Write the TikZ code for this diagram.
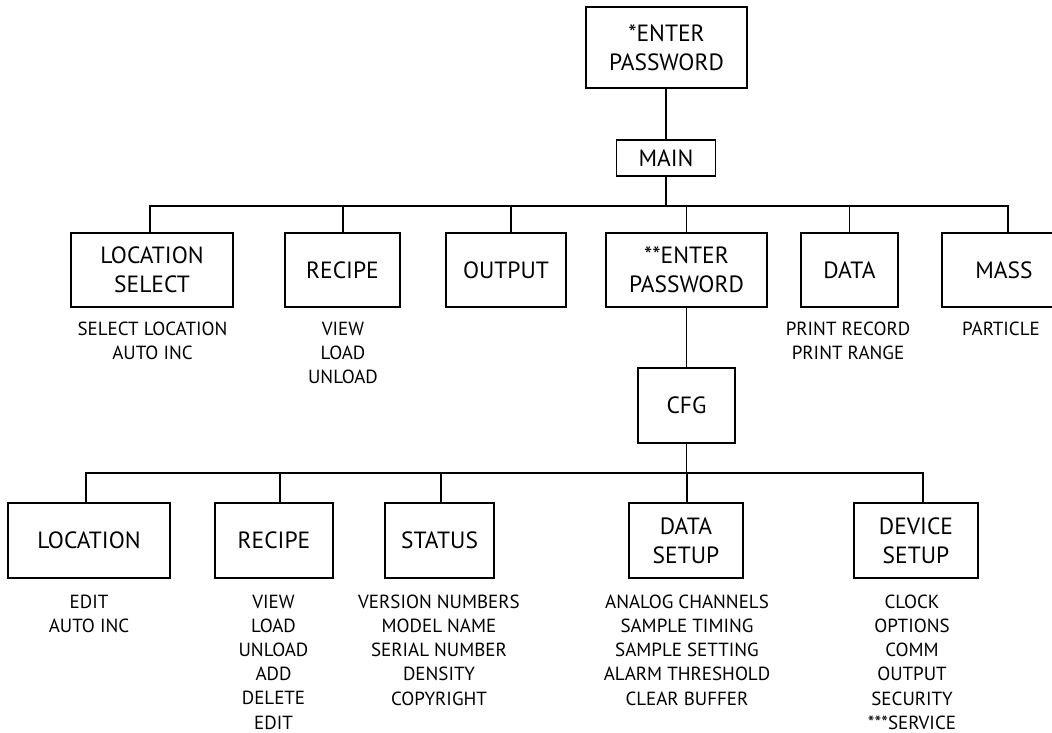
\documentclass[tikz,border=0pt]{standalone}
\usepackage{fontspec}
\setmainfont{PT Sans}
\newcommand\boxfont{\fontsize{23.5}{29}\selectfont}
\newcommand\itemfont{\fontsize{19}{24.2}\selectfont}
\begin{document}
\begin{tikzpicture}[x=1pt,y=-1pt,
  box/.style={draw, line width=1.8pt, inner sep=0pt, align=center, font=\boxfont},
  row1/.style={box, minimum height=74pt},
  row2/.style={box, minimum height=75pt},
  items/.style={inner sep=0pt, align=center, anchor=north, font=\itemfont},
  conn/.style={line width=1.8pt}]
\useasboundingbox (0,0) rectangle (1052,733);
\clip (0,0) rectangle (1052,733);
% top level
\node[box, minimum width=161pt, minimum height=81pt] (top) at (666.5,47.5) {*ENTER\\PASSWORD};
\node[box, minimum width=99pt, minimum height=36pt] (main) at (666,158) {MAIN};
\coordinate (bus1) at (0,206);
% row 1
\node[row1, minimum width=162pt] (locsel) at (152,270) {LOCATION\\SELECT};
\node[row1, minimum width=115pt] (recipe1) at (342.5,270) {RECIPE};
\node[row1, minimum width=120pt] (output) at (506,270) {OUTPUT};
\node[row1, minimum width=161pt] (enter2) at (686.5,270) {**ENTER\\PASSWORD};
\node[row1, minimum width=97pt] (data) at (849.5,270) {DATA};
\node[row1, minimum width=124pt] (mass) at (1004,270) {MASS};
% row 1 items
\node[items] (locsel-items) at (152.5,321.5) {SELECT LOCATION\\AUTO INC};
\node[items] (recipe1-items) at (343,321.5) {VIEW\\LOAD\\UNLOAD};
\node[items] (data-items) at (848,321.5) {PRINT RECORD\\PRINT RANGE};
\node[items] (mass-items) at (1001,321.5) {PARTICLE};
% CFG
\node[box, minimum width=97pt, minimum height=75pt] (cfg) at (686.5,405.5) {CFG};
\coordinate (bus2) at (0,473);
% row 2
\node[row2, minimum width=162pt] (location) at (89,540.5) {LOCATION};
\node[row2, minimum width=118pt] (recipe2) at (274,540.5) {RECIPE};
\node[row2, minimum width=109pt] (status) at (439.5,540.5) {STATUS};
\node[row2, minimum width=114pt] (datasetup) at (686,540.5) {DATA\\SETUP};
\node[row2, minimum width=124pt] (devicesetup) at (916,540.5) {DEVICE\\SETUP};
% row 2 items
\node[items] (location-items) at (89,594.5) {EDIT\\AUTO INC};
\node[items] (recipe2-items) at (273.5,594.5) {VIEW\\LOAD\\UNLOAD\\ADD\\DELETE\\EDIT};
\node[items] (status-items) at (439,594.5) {VERSION NUMBERS\\MODEL NAME\\SERIAL NUMBER\\DENSITY\\COPYRIGHT};
\node[items] (datasetup-items) at (687,594.5) {ANALOG CHANNELS\\SAMPLE TIMING\\SAMPLE SETTING\\ALARM THRESHOLD\\CLEAR BUFFER};
\node[items] (devicesetup-items) at (912,594.5) {CLOCK\\OPTIONS\\COMM\\OUTPUT\\SECURITY\\***SERVICE};
% connectors
\draw[conn] (main.north) -- (main.north |- top.south);
\draw[conn] (main.south) -- (main.south |- bus1);
\draw[conn] ([xshift=-2pt]locsel.north) |- ([xshift=4pt]mass.north |- bus1) -- ([xshift=4pt]mass.north);
\draw[conn] ([xshift=0.5pt]recipe1.north) -- ([xshift=0.5pt]recipe1.north |- bus1);
\draw[conn] ([xshift=5pt]output.north) -- ([xshift=5pt]output.north |- bus1);
\draw[conn] (enter2.north) -- (enter2.north |- bus1);
\draw[conn] (data.north) -- (data.north |- bus1);
\draw[conn] (cfg.north) -- (cfg.north |- enter2.south);
\draw[conn] (cfg.south) -- (cfg.south |- bus2);
\draw[conn] ([xshift=-3pt]location.north) |- ([xshift=7pt]devicesetup.north |- bus2) -- ([xshift=7pt]devicesetup.north);
\draw[conn] ([xshift=6pt]recipe2.north) -- ([xshift=6pt]recipe2.north |- bus2);
\draw[conn] ([xshift=1.5pt]status.north) -- ([xshift=1.5pt]status.north |- bus2);
\draw[conn] ([xshift=1pt]datasetup.north) -- ([xshift=1pt]datasetup.north |- bus2);
\end{tikzpicture}
\end{document}
